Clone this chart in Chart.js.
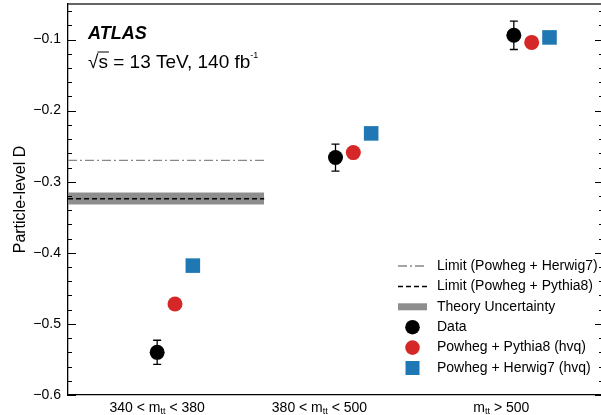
<!DOCTYPE html>
<html>
<head>
<meta charset="utf-8">
<script src="https://cdn.jsdelivr.net/npm/chart.js@4.4.1/dist/chart.umd.min.js"></script>
<style>
  html, body { margin: 0; padding: 0; overflow: hidden; background: #fff; }
  #myChart { display: block; }
</style>
</head>
<body>
<canvas id="myChart" width="606" height="415"></canvas>
<script>
// bins of m_tt (GeV), subscript written in {}
var categories = ['340 < m{tt} < 380', '380 < m{tt} < 500', 'm{tt} > 500'];
var xLabelAt = [0.5, 1.41, 2.43];

// Particle-level D per bin
var dataD = [-0.540, -0.266, -0.094];
var dataErr = [0.017, 0.019, 0.020];
var pythia8 = [-0.472, -0.259, -0.104];
var herwig7 = [-0.418, -0.232, -0.097];

// limits and theory band
var limitHerwig7 = -0.270;
var limitPythia8 = -0.324;
var theoryBand = [-0.332, -0.315];
var limitRange = [0, 1.1];

var yTicks = [-0.6, -0.5, -0.4, -0.3, -0.2, -0.1];

var FONT = '"Liberation Sans", Arial, Helvetica, sans-serif';
var RED = '#d62728';
var BLUE = '#1f77b4';
var BAND = '#8e8e8e';

function pts(vals, shift) {
  return vals.map(function (v, i) { return { x: i + 0.5 + shift, y: v }; });
}
function hline(y) {
  return [{ x: limitRange[0], y: y }, { x: limitRange[1], y: y }];
}

function drawRich(ctx, text, cx, cy, size) {
  var parts = text.split(/(\{[^}]*\})/).filter(function (p) { return p.length; });
  var subSize = Math.round(size * 0.65);
  var w = 0;
  parts.forEach(function (p) {
    var sub = p[0] === '{';
    ctx.font = (sub ? subSize : size) + 'px ' + FONT;
    w += ctx.measureText(sub ? p.slice(1, -1) : p).width;
  });
  var x = cx - w / 2;
  ctx.textBaseline = 'middle';
  ctx.textAlign = 'left';
  parts.forEach(function (p) {
    var sub = p[0] === '{';
    var t = sub ? p.slice(1, -1) : p;
    ctx.font = (sub ? subSize : size) + 'px ' + FONT;
    ctx.fillText(t, x, cy + (sub ? 4 : 0));
    x += ctx.measureText(t).width;
  });
}

var decor = {
  id: 'decor',
  afterDatasetsDraw: function (chart) {
    var ctx = chart.ctx, xs = chart.scales.x, ys = chart.scales.y;
    // error bars on data
    ctx.save();
    ctx.strokeStyle = '#000';
    ctx.lineWidth = 1.3;
    dataD.forEach(function (v, i) {
      var px = xs.getPixelForValue(i + 0.5);
      var top = ys.getPixelForValue(v + dataErr[i]);
      var bot = ys.getPixelForValue(v - dataErr[i]);
      ctx.beginPath();
      ctx.moveTo(px, top); ctx.lineTo(px, bot);
      ctx.moveTo(px - 4, top); ctx.lineTo(px + 4, top);
      ctx.moveTo(px - 4, bot); ctx.lineTo(px + 4, bot);
      ctx.stroke();
    });
    ctx.restore();
  },
  afterDraw: function (chart) {
    var ctx = chart.ctx, a = chart.chartArea, xs = chart.scales.x, ys = chart.scales.y;
    ctx.save();
    // top and right frame
    ctx.strokeStyle = '#333';
    ctx.lineWidth = 1.5;
    ctx.beginPath();
    ctx.moveTo(a.left, a.top); ctx.lineTo(a.right, a.top); ctx.lineTo(a.right, a.bottom);
    ctx.stroke();
    // inward ticks, minor every 0.02
    ctx.lineWidth = 1;
    ctx.strokeStyle = '#000';
    for (var k = -60; k <= -6; k += 2) {
      var py = Math.round(ys.getPixelForValue(k / 100)) + 0.5;
      var len = (k % 10 === 0) ? 8 : 4;
      ctx.beginPath();
      ctx.moveTo(a.left, py); ctx.lineTo(a.left + len, py);
      ctx.moveTo(a.right, py); ctx.lineTo(a.right - len, py);
      ctx.stroke();
    }
    // x labels
    ctx.fillStyle = '#000';
    categories.forEach(function (c, i) {
      drawRich(ctx, c, xs.getPixelForValue(xLabelAt[i]), a.bottom + 13, 14);
    });
    // ATLAS label
    ctx.textAlign = 'left';
    ctx.textBaseline = 'alphabetic';
    ctx.font = 'italic bold 18px ' + FONT;
    ctx.fillText('ATLAS', a.left + 20, 39);
    ctx.font = '19px ' + FONT;
    var x0 = a.left + 20, base = 68;
    ctx.fillText('\u221A', x0, base);
    var rw = ctx.measureText('\u221A').width;
    var sw = ctx.measureText('s').width;
    ctx.fillText('s', x0 + rw, base);
    ctx.beginPath();
    ctx.lineWidth = 1;
    ctx.moveTo(x0 + rw - 1, base - 16); ctx.lineTo(x0 + rw + sw + 1, base - 16);
    ctx.stroke();
    var rest = ' = 13 TeV, 140 fb';
    ctx.fillText(rest, x0 + rw + sw, base);
    var ex = x0 + rw + sw + ctx.measureText(rest).width;
    ctx.font = '9px ' + FONT;
    ctx.fillText('-1', ex, base - 10);

    // legend
    var lx = 398, lw = 29, tx = 437, y0 = 266, dy = 20.4;
    var rows = ['Limit (Powheg + Herwig7)', 'Limit (Powheg + Pythia8)', 'Theory Uncertainty',
      'Data', 'Powheg + Pythia8 (hvq)', 'Powheg + Herwig7 (hvq)'];
    rows.forEach(function (t, i) {
      var cy = y0 + i * dy;
      ctx.save();
      if (i === 0) {
        ctx.strokeStyle = '#888'; ctx.lineWidth = 1.3; ctx.setLineDash([9, 3, 2, 3]);
        ctx.beginPath(); ctx.moveTo(lx, cy); ctx.lineTo(lx + lw, cy); ctx.stroke();
      } else if (i === 1) {
        ctx.strokeStyle = '#000'; ctx.lineWidth = 1.5; ctx.setLineDash([5, 3]);
        ctx.beginPath(); ctx.moveTo(lx, cy); ctx.lineTo(lx + lw, cy); ctx.stroke();
      } else if (i === 2) {
        ctx.fillStyle = BAND; ctx.fillRect(lx, cy - 3.5, lw, 7);
      } else if (i === 5) {
        ctx.fillStyle = BLUE; ctx.fillRect(lx + lw / 2 - 7, cy - 7, 14, 14);
      } else {
        ctx.fillStyle = i === 3 ? '#000' : RED;
        ctx.beginPath(); ctx.arc(lx + lw / 2, cy, 7.3, 0, Math.PI * 2); ctx.fill();
      }
      ctx.restore();
      ctx.fillStyle = '#000';
      ctx.font = '14px ' + FONT;
      ctx.textBaseline = 'middle';
      ctx.fillText(t, tx, cy);
    });
    ctx.restore();
  }
};

var ctx = document.getElementById('myChart').getContext('2d');
var myChart = new Chart(ctx, {
  type: 'scatter',
  data: {
    datasets: [
      { label: 'band low', data: hline(theoryBand[0]), showLine: true, borderWidth: 0,
        pointRadius: 0, borderColor: 'rgba(0,0,0,0)', fill: false, order: 10 },
      { label: 'Theory Uncertainty', data: hline(theoryBand[1]), showLine: true, borderWidth: 0,
        pointRadius: 0, borderColor: 'rgba(0,0,0,0)', backgroundColor: BAND, fill: '-1', order: 9 },
      { label: 'Limit (Powheg + Pythia8)', data: hline(limitPythia8), showLine: true,
        borderColor: '#000', borderWidth: 1.5, borderDash: [5, 3], pointRadius: 0, order: 5 },
      { label: 'Limit (Powheg + Herwig7)', data: hline(limitHerwig7), showLine: true,
        borderColor: '#888', borderWidth: 1.3, borderDash: [9, 3, 2, 3], pointRadius: 0, order: 5 },
      { label: 'Data', data: pts(dataD, 0), pointRadius: 7.5, pointBackgroundColor: '#000',
        pointBorderWidth: 0, order: 0 },
      { label: 'Powheg + Pythia8 (hvq)', data: pts(pythia8, 0.1), pointRadius: 7.5,
        pointBackgroundColor: RED, pointBorderWidth: 0, order: 0 },
      { label: 'Powheg + Herwig7 (hvq)', data: pts(herwig7, 0.2), pointRadius: 10.3,
        pointStyle: 'rect', pointBackgroundColor: BLUE, pointBorderWidth: 0, order: 0 }
    ]
  },
  options: {
    responsive: false,
    animation: false,
    layout: { autoPadding: false, padding: { top: 4, right: 3, left: 0, bottom: 0 } },
    plugins: { legend: { display: false }, tooltip: { enabled: false } },
    scales: {
      x: {
        type: 'linear', min: 0, max: 3,
        grid: { display: false },
        border: { display: true, color: '#000', width: 1.3 },
        ticks: { display: false },
        afterFit: function (s) { s.height = 20; s.paddingLeft = 0; s.paddingRight = 0; }
      },
      y: {
        min: -0.6, max: -0.05,
        grid: { display: false, drawTicks: false },
        border: { display: true, color: '#000', width: 1.3 },
        afterBuildTicks: function (s) { s.ticks = yTicks.map(function (v) { return { value: v }; }); },
        ticks: {
          padding: 7, color: '#000', font: { family: FONT, size: 14 },
          callback: function (v) { return '\u2212' + Math.abs(v).toFixed(1); }
        },
        title: { display: true, text: 'Particle-level D', color: '#000',
          font: { family: FONT, size: 16 }, padding: { top: 11, bottom: 0 } },
        afterFit: function (s) { s.width = 68; s.paddingTop = 0; s.paddingBottom = 0; }
      }
    }
  },
  plugins: [decor]
});
</script>
</body>
</html>
